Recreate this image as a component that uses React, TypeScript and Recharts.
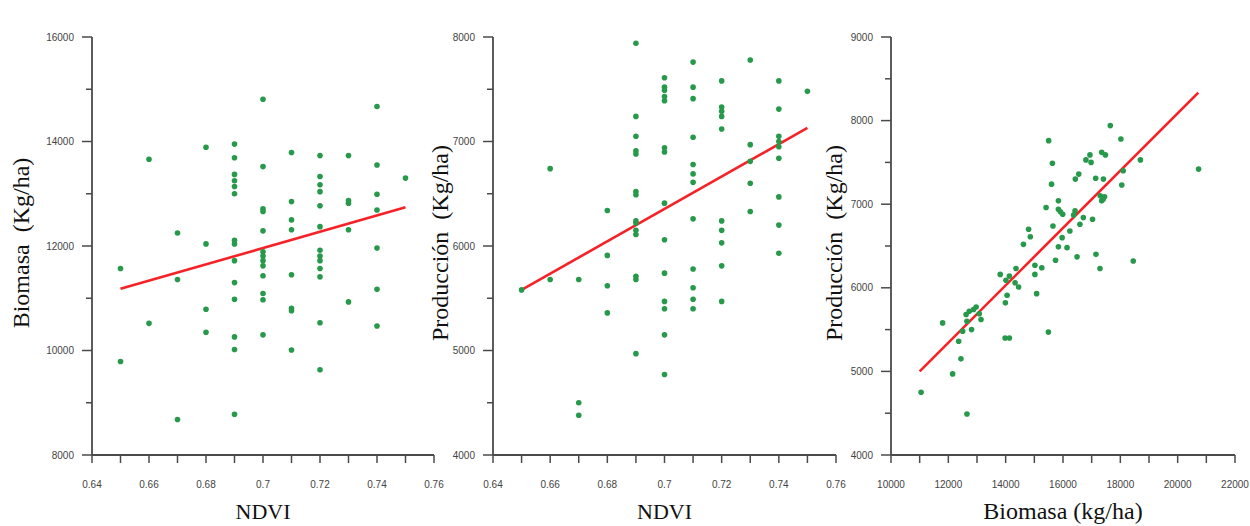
import React from "react"
import { ScatterChart, Scatter, XAxis, YAxis, ReferenceLine, Label } from "recharts"

// NDVI vs Biomasa (Kg/ha)
const ndviBiomasa: [number, number][] = [
  [0.65, 11570], [0.65, 9790],
  [0.66, 13660], [0.66, 10520],
  [0.67, 12250], [0.67, 11360], [0.67, 8680],
  [0.68, 13890], [0.68, 12040], [0.68, 10790], [0.68, 10350],
  [0.69, 13950], [0.69, 13690], [0.69, 13370], [0.69, 13250], [0.69, 13140], [0.69, 13000],
  [0.69, 12110], [0.69, 12040], [0.69, 11720], [0.69, 11300], [0.69, 10980], [0.69, 10260],
  [0.69, 10020], [0.69, 8780],
  [0.7, 14810], [0.7, 13520], [0.7, 12710], [0.7, 12660], [0.7, 12290], [0.7, 11890],
  [0.7, 11810], [0.7, 11720], [0.7, 11620], [0.7, 11430], [0.7, 11090], [0.7, 10970], [0.7, 10300],
  [0.71, 13790], [0.71, 12850], [0.71, 12500], [0.71, 12310], [0.71, 11450], [0.71, 10810],
  [0.71, 10760], [0.71, 10010],
  [0.72, 13730], [0.72, 13330], [0.72, 13170], [0.72, 13040], [0.72, 12770], [0.72, 12370],
  [0.72, 11920], [0.72, 11810], [0.72, 11720], [0.72, 11570], [0.72, 11410], [0.72, 10530], [0.72, 9630],
  [0.73, 13730], [0.73, 12870], [0.73, 12820], [0.73, 12310], [0.73, 10930],
  [0.74, 14670], [0.74, 13550], [0.74, 12990], [0.74, 12690], [0.74, 11960], [0.74, 11170], [0.74, 10470],
  [0.75, 13300],
]
const ndviBiomasaFit: [number, number][] = [[0.65, 11180], [0.75, 12740]]

// NDVI vs Producción (Kg/ha)
const ndviProduccion: [number, number][] = [
  [0.65, 5580],
  [0.66, 6740], [0.66, 5680],
  [0.67, 5680], [0.67, 4500], [0.67, 4380],
  [0.68, 6340], [0.68, 5910], [0.68, 5620], [0.68, 5360],
  [0.69, 7940], [0.69, 7240], [0.69, 7050], [0.69, 6910], [0.69, 6880], [0.69, 6520], [0.69, 6490],
  [0.69, 6240], [0.69, 6220], [0.69, 6150], [0.69, 6110], [0.69, 5710], [0.69, 5680], [0.69, 4970],
  [0.7, 7610], [0.7, 7520], [0.7, 7490], [0.7, 7430], [0.7, 7390], [0.7, 6940], [0.7, 6900],
  [0.7, 6410], [0.7, 6060], [0.7, 5740], [0.7, 5470], [0.7, 5400], [0.7, 5150], [0.7, 4770],
  [0.71, 7760], [0.71, 7520], [0.71, 7410], [0.71, 7040], [0.71, 6780], [0.71, 6690], [0.71, 6610],
  [0.71, 6260], [0.71, 5780], [0.71, 5600], [0.71, 5490], [0.71, 5400],
  [0.72, 7580], [0.72, 7330], [0.72, 7290], [0.72, 7240], [0.72, 7120], [0.72, 6240], [0.72, 6150],
  [0.72, 6030], [0.72, 5810], [0.72, 5470],
  [0.73, 7780], [0.73, 6970], [0.73, 6810], [0.73, 6600], [0.73, 6330],
  [0.74, 7580], [0.74, 7310], [0.74, 7050], [0.74, 7000], [0.74, 6950], [0.74, 6840], [0.74, 6470],
  [0.74, 6200], [0.74, 5930],
  [0.75, 7480],
]
const ndviProduccionFit: [number, number][] = [[0.65, 5580], [0.75, 7130]]

// Biomasa (kg/ha) vs Producción (Kg/ha)
const biomasaProduccion: [number, number][] = [
  [17650, 7940], [15500, 7760], [18020, 7780], [16940, 7590], [16800, 7530], [16980, 7500],
  [17350, 7620], [17480, 7590], [15630, 7490], [18700, 7530], [20730, 7420], [16550, 7360],
  [16430, 7300], [17140, 7310], [17410, 7300], [15600, 7240], [18050, 7230], [18100, 7400],
  [17300, 7100], [17400, 7060], [17350, 7040], [17450, 7090], [15840, 7040], [15410, 6960],
  [15840, 6940], [15910, 6910], [15990, 6880], [16420, 6920], [16710, 6840], [17030, 6820],
  [16370, 6870], [16590, 6760], [15650, 6740], [16240, 6680], [14800, 6700], [14860, 6610],
  [15970, 6600], [14620, 6520], [15840, 6490], [16140, 6480], [16490, 6370], [17150, 6400],
  [15740, 6330], [18450, 6320], [17290, 6230], [15020, 6270], [15260, 6240], [14360, 6230],
  [13810, 6160], [14130, 6140], [15020, 6160], [14330, 6060], [14450, 6010], [14010, 6090],
  [14050, 5910], [15080, 5930], [13990, 5820], [15490, 5470], [13980, 5400], [14130, 5400],
  [13140, 5620], [12970, 5770], [12880, 5740], [12730, 5720], [12620, 5680], [12650, 5600],
  [12810, 5500], [12500, 5480], [11800, 5580], [12360, 5360], [12440, 5150], [12150, 4970],
  [11050, 4750], [12650, 4490], [13080, 5690],
]
const biomasaProduccionFit: [number, number][] = [[11000, 5000], [20720, 8335]]

// axis ticks
const ndviMajor = [0.64, 0.66, 0.68, 0.7, 0.72, 0.74, 0.76]
const ndviMinor = [0.65, 0.67, 0.69, 0.71, 0.73, 0.75]
const biomasaAxisMajor = [8000, 10000, 12000, 14000, 16000]
const biomasaAxisMinor = [9000, 11000, 13000, 15000]
const produccionMajor = [4000, 5000, 6000, 7000, 8000]
const produccionMinor = [4500, 5500, 6500, 7500]
const produccion2Major = [4000, 5000, 6000, 7000, 8000, 9000]
const produccion2Minor = [4500, 5500, 6500, 7500, 8500]
const biomasaXMajor = [10000, 12000, 14000, 16000, 18000, 20000, 22000]
const biomasaXMinor = [11000, 13000, 15000, 17000, 19000, 21000]

const AXIS = "#4a4a4a"
const GREEN = "#27994a"
const RED = "#f52228"
const TICK_FONT = "Liberation Sans, Arial, sans-serif"
const TITLE_FONT = "Liberation Serif, Times New Roman, serif"

const Dot = (props: any) => <circle cx={props.cx} cy={props.cy} r={2.8} fill={GREEN} />

type PanelProps = {
  points: [number, number][]
  fit: [number, number][]
  xMajor: number[]
  xMinor: number[]
  yMajor: number[]
  yMinor: number[]
  xTitle: string
  xTitleSize: number
  yTitle: string
  plotLeft: number
  plotRight: number
  yTitleX: number
}

const Panel: React.FC<PanelProps> = ({
  points, fit, xMajor, xMinor, yMajor, yMinor, xTitle, xTitleSize, yTitle, plotLeft, plotRight, yTitleX,
}) => {
  const data = points.map(([x, y]) => ({ x, y }))
  const xTicks = [...xMajor, ...xMinor].sort((a, b) => a - b)
  const yTicks = [...yMajor, ...yMinor].sort((a, b) => a - b)

  const xTick = (p: any) => {
    const major = xMajor.includes(p.payload.value)
    return (
      <g>
        <line x1={p.x} x2={p.x} y1={p.y} y2={p.y + 8} stroke={AXIS} strokeWidth={1.5} />
        {major && (
          <text x={p.x} y={p.y + 33} textAnchor="middle" fontSize={10} fill="#444" fontFamily={TICK_FONT}>
            {p.payload.value}
          </text>
        )}
      </g>
    )
  }
  const yTick = (p: any) => {
    const major = yMajor.includes(p.payload.value)
    return (
      <g>
        <line x1={p.x - (major ? 10 : 6)} x2={p.x} y1={p.y} y2={p.y} stroke={AXIS} strokeWidth={1.5} />
        {major && (
          <text x={p.x - 18} y={p.y + 3.5} textAnchor="end" fontSize={10} fill="#444" fontFamily={TICK_FONT}>
            {p.payload.value}
          </text>
        )}
      </g>
    )
  }

  return (
    <ScatterChart
      width={1250}
      height={526}
      margin={{ top: 37, right: 1250 - plotRight, bottom: 0, left: 0 }}
      style={{ position: "absolute", left: 0, top: 0 }}
    >
      <XAxis
        type="number"
        dataKey="x"
        domain={[xMajor[0], xMajor[xMajor.length - 1]]}
        ticks={xTicks}
        interval={0}
        tickSize={0}
        tickMargin={0}
        tickLine={false}
        tick={xTick}
        height={71}
        axisLine={{ stroke: AXIS, strokeWidth: 1.8 }}
        allowDataOverflow
      >
        <Label
          content={(lp: any) => {
            const vb = lp.viewBox
            return (
              <text x={vb.x + vb.width / 2} y={519} textAnchor="middle" fontSize={xTitleSize} fill="#111" fontFamily={TITLE_FONT}>
                {xTitle}
              </text>
            )
          }}
        />
      </XAxis>
      <YAxis
        type="number"
        dataKey="y"
        width={plotLeft}
        domain={[yMajor[0], yMajor[yMajor.length - 1]]}
        ticks={yTicks}
        interval={0}
        tickSize={0}
        tickMargin={0}
        tickLine={false}
        tick={yTick}
        axisLine={{ stroke: AXIS, strokeWidth: 1.8 }}
        allowDataOverflow
      >
        <Label
          content={(lp: any) => {
            const vb = lp.viewBox
            const cy = vb.y + vb.height / 2 - 3
            return (
              <text
                x={yTitleX}
                y={cy}
                transform={`rotate(-90 ${yTitleX} ${cy})`}
                textAnchor="middle"
                dominantBaseline="central"
                fontSize={24}
                fill="#111"
                fontFamily={TITLE_FONT}
              >
                {yTitle}
              </text>
            )
          }}
        />
      </YAxis>
      <Scatter data={data} shape={Dot} isAnimationActive={false} />
      <ReferenceLine
        segment={fit.map(([x, y]) => ({ x, y }))}
        stroke={RED}
        strokeWidth={2.6}
        ifOverflow="visible"
      />
    </ScatterChart>
  )
}

export default function App() {
  return (
    <div style={{ position: "absolute", left: 0, top: 0, width: 1250, height: 526, background: "#fff" }}>
      <Panel
        points={ndviBiomasa}
        fit={ndviBiomasaFit}
        xMajor={ndviMajor}
        xMinor={ndviMinor}
        yMajor={biomasaAxisMajor}
        yMinor={biomasaAxisMinor}
        xTitle="NDVI"
        xTitleSize={22}
        yTitle={"Biomasa\u00a0 (Kg/ha)"}
        plotLeft={92}
        plotRight={434}
        yTitleX={21}
      />
      <Panel
        points={ndviProduccion}
        fit={ndviProduccionFit}
        xMajor={ndviMajor}
        xMinor={ndviMinor}
        yMajor={produccionMajor}
        yMinor={produccionMinor}
        xTitle="NDVI"
        xTitleSize={22}
        yTitle={"Producción\u00a0 (Kg/ha)"}
        plotLeft={493}
        plotRight={836}
        yTitleX={440}
      />
      <Panel
        points={biomasaProduccion}
        fit={biomasaProduccionFit}
        xMajor={biomasaXMajor}
        xMinor={biomasaXMinor}
        yMajor={produccion2Major}
        yMinor={produccion2Minor}
        xTitle="Biomasa (kg/ha)"
        xTitleSize={24}
        yTitle={"Producción\u00a0 (Kg/ha)"}
        plotLeft={891}
        plotRight={1235}
        yTitleX={834}
      />
    </div>
  )
}
